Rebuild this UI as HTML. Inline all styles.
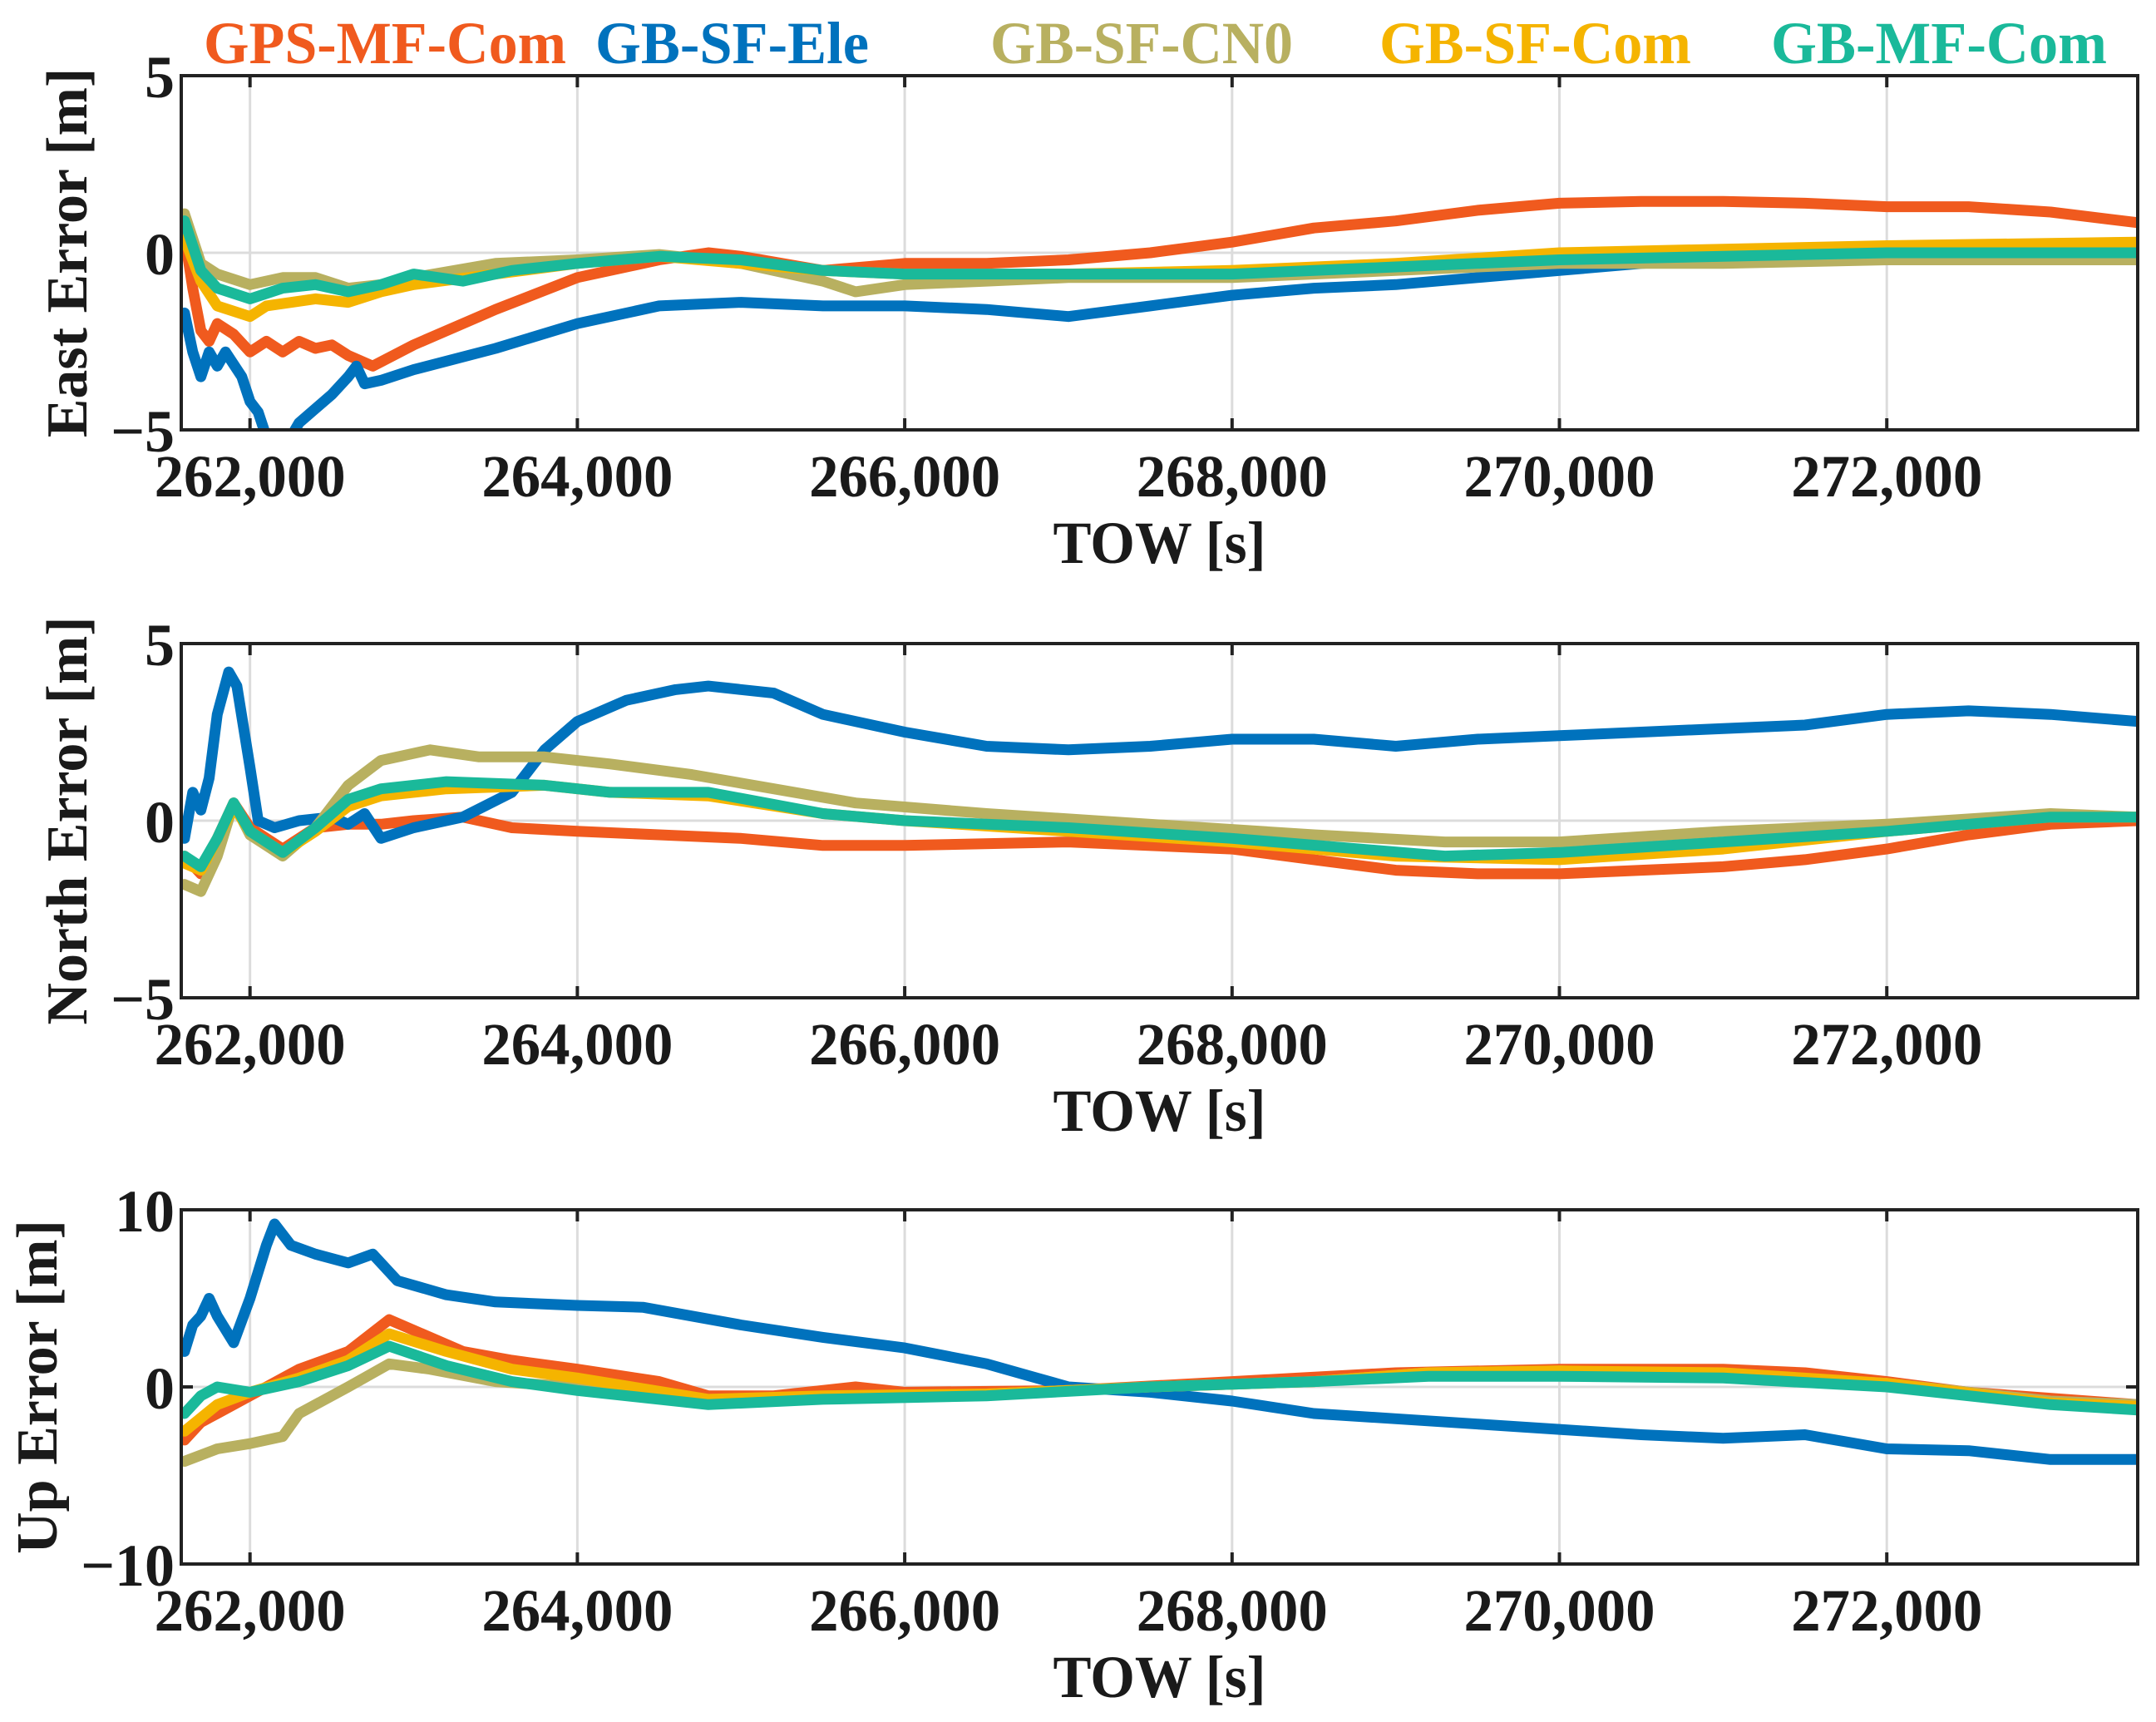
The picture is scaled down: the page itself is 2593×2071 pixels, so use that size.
<!DOCTYPE html>
<html><head><meta charset="utf-8"><style>
html,body{margin:0;padding:0;background:#fff;}
svg{display:block;font-family:"Liberation Serif",serif;font-weight:bold;}
</style></head><body>
<svg id="chart" width="2593" height="2071" viewBox="0 0 2593 2071">
<g id="legend" font-size="72">
<text x="245" y="76" fill="#f05a1e" textLength="436" lengthAdjust="spacingAndGlyphs">GPS-MF-Com</text>
<text x="716" y="76" fill="#0072bd" textLength="329" lengthAdjust="spacingAndGlyphs">GB-SF-Ele</text>
<text x="1191" y="76" fill="#b8b060" textLength="364" lengthAdjust="spacingAndGlyphs">GB-SF-CN0</text>
<text x="1659" y="76" fill="#f5b400" textLength="375" lengthAdjust="spacingAndGlyphs">GB-SF-Com</text>
<text x="2130" y="76" fill="#1ab99a" textLength="404" lengthAdjust="spacingAndGlyphs">GB-MF-Com</text>
</g>
</svg>
<script>
const xTicks=[262000,264000,266000,268000,270000,272000];
const xTickLabels=["262,000","264,000","266,000","268,000","270,000","272,000"];
const xDomain=[261580,273533];
const seriesNames=["GPS-MF-Com","GB-SF-Ele","GB-SF-CN0","GB-SF-Com","GB-MF-Com"];
const seriesColors=["#f05a1e","#0072bd","#b8b060","#f5b400","#1ab99a"];

const eastGPS=[[261600,0.5],[261650,-1],[261700,-2.2],[261750,-2.5],[261800,-2.0],[261900,-2.3],[262000,-2.8],[262100,-2.5],[262200,-2.8],[262300,-2.5],[262400,-2.7],[262500,-2.6],[262600,-2.9],[262750,-3.2],[263000,-2.6],[263500,-1.6],[264000,-0.7],[264500,-0.2],[264800,0],[265000,-0.1],[265500,-0.5],[266000,-0.3],[266500,-0.3],[267000,-0.2],[267500,0],[268000,0.3],[268500,0.7],[269000,0.9],[269500,1.2],[270000,1.4],[270500,1.45],[271000,1.45],[271500,1.4],[272000,1.3],[272500,1.3],[273000,1.15],[273533,0.85]];
const eastEle=[[261600,-1.7],[261650,-2.8],[261700,-3.5],[261750,-2.8],[261800,-3.2],[261850,-2.8],[261950,-3.5],[262000,-4.2],[262050,-4.5],[262100,-5.2],[262200,-5.6],[262300,-4.8],[262500,-4.0],[262600,-3.5],[262650,-3.2],[262700,-3.7],[262800,-3.6],[263000,-3.3],[263500,-2.7],[264000,-2.0],[264500,-1.5],[265000,-1.4],[265500,-1.5],[266000,-1.5],[266500,-1.6],[267000,-1.8],[267500,-1.5],[268000,-1.2],[268500,-1.0],[269000,-0.9],[269500,-0.7],[270000,-0.5],[270500,-0.3],[271000,-0.2],[272000,-0.1],[273533,-0.1]];
const eastCN0=[[261600,1.1],[261700,-0.3],[261800,-0.6],[262000,-0.9],[262200,-0.7],[262400,-0.7],[262600,-1.0],[262800,-0.9],[263000,-0.7],[263500,-0.3],[264000,-0.2],[264500,-0.05],[265000,-0.3],[265500,-0.8],[265700,-1.1],[266000,-0.9],[266500,-0.8],[267000,-0.7],[268000,-0.7],[269000,-0.5],[270000,-0.3],[271000,-0.3],[272000,-0.2],[273533,-0.2]];
const eastSFCom=[[261600,0.4],[261700,-0.8],[261800,-1.5],[262000,-1.8],[262100,-1.5],[262400,-1.3],[262600,-1.4],[262800,-1.1],[263000,-0.9],[263500,-0.6],[264000,-0.3],[264500,-0.1],[265000,-0.3],[265500,-0.5],[266000,-0.6],[267000,-0.6],[268000,-0.5],[269000,-0.3],[270000,0],[271000,0.1],[272000,0.2],[273533,0.3]];
const eastMFCom=[[261600,0.9],[261700,-0.5],[261800,-1.0],[262000,-1.3],[262200,-1.0],[262400,-0.9],[262600,-1.1],[262800,-0.9],[263000,-0.6],[263300,-0.8],[263600,-0.5],[264000,-0.3],[264500,-0.1],[265000,-0.2],[265500,-0.5],[266000,-0.6],[267000,-0.6],[268000,-0.6],[269000,-0.4],[270000,-0.2],[271000,-0.1],[272000,0],[273533,0]];

const northGPS=[[261600,-1.0],[261700,-1.5],[261800,-0.5],[261900,0.5],[262000,-0.2],[262200,-0.8],[262400,-0.2],[262600,-0.1],[262800,-0.1],[263000,0],[263300,0.1],[263600,-0.2],[264000,-0.3],[264500,-0.4],[265000,-0.5],[265500,-0.7],[266000,-0.7],[267000,-0.6],[268000,-0.8],[268500,-1.1],[269000,-1.4],[269500,-1.5],[270000,-1.5],[270500,-1.4],[271000,-1.3],[271500,-1.1],[272000,-0.8],[272500,-0.4],[273000,-0.1],[273533,0]];
const northEle=[[261600,-0.5],[261650,0.8],[261700,0.3],[261750,1.2],[261800,3.0],[261870,4.2],[261920,3.8],[262000,1.5],[262050,0],[262150,-0.2],[262300,0],[262500,0.1],[262600,-0.1],[262700,0.2],[262800,-0.5],[263000,-0.2],[263300,0.1],[263600,0.8],[263800,2.0],[264000,2.8],[264300,3.4],[264600,3.7],[264800,3.8],[265200,3.6],[265500,3.0],[266000,2.5],[266500,2.1],[267000,2.0],[267500,2.1],[268000,2.3],[268500,2.3],[269000,2.1],[269500,2.3],[270000,2.4],[270500,2.5],[271000,2.6],[271500,2.7],[272000,3.0],[272500,3.1],[273000,3.0],[273533,2.8]];
const northCN0=[[261600,-1.8],[261700,-2.0],[261800,-1.0],[261900,0.5],[262000,-0.4],[262200,-1.0],[262400,-0.2],[262600,1.0],[262800,1.7],[263100,2.0],[263400,1.8],[263800,1.8],[264200,1.6],[264700,1.3],[265200,0.9],[265700,0.5],[266500,0.2],[267500,-0.1],[268500,-0.4],[269300,-0.6],[270000,-0.6],[271000,-0.3],[272000,-0.1],[273000,0.2],[273533,0.1]];
const northSFCom=[[261600,-1.2],[261700,-1.4],[261800,-0.5],[261900,0.4],[262000,-0.3],[262200,-0.9],[262400,-0.3],[262600,0.4],[262800,0.7],[263200,0.9],[263800,1.0],[264200,0.8],[264800,0.7],[265500,0.2],[266000,0],[267000,-0.3],[268000,-0.6],[269000,-1.0],[270000,-1.1],[271000,-0.8],[272000,-0.3],[273000,0.1],[273533,0.1]];
const northMFCom=[[261600,-1.0],[261700,-1.3],[261800,-0.5],[261900,0.5],[262000,-0.3],[262200,-0.9],[262400,-0.2],[262600,0.6],[262800,0.9],[263200,1.1],[263800,1.0],[264200,0.8],[264800,0.8],[265500,0.2],[266000,0],[267000,-0.2],[268000,-0.5],[269300,-1.0],[270000,-0.9],[271000,-0.6],[272000,-0.3],[273000,0.1],[273533,0.1]];

const upGPS=[[261600,-3],[261700,-2],[261800,-1.5],[262000,-0.5],[262300,1],[262600,2],[262850,3.8],[263000,3.2],[263300,2],[263600,1.5],[264000,1],[264500,0.3],[264800,-0.5],[265200,-0.5],[265700,0],[266000,-0.3],[267000,-0.2],[268000,0.3],[269000,0.8],[270000,1.0],[271000,1.0],[271500,0.8],[272000,0.3],[272500,-0.3],[273533,-1.0]];
const upEle=[[261600,2],[261650,3.5],[261700,4],[261750,5],[261800,4],[261900,2.5],[262000,5],[262100,8],[262150,9.2],[262250,8],[262400,7.5],[262600,7],[262750,7.5],[262900,6],[263200,5.2],[263500,4.8],[264000,4.6],[264400,4.5],[265000,3.5],[265500,2.8],[266000,2.2],[266500,1.3],[267000,0],[267500,-0.3],[268000,-0.8],[268500,-1.5],[269000,-1.8],[269500,-2.1],[270000,-2.4],[270500,-2.7],[271000,-2.9],[271500,-2.7],[272000,-3.5],[272500,-3.6],[273000,-4.1],[273533,-4.1]];
const upCN0=[[261600,-4.2],[261800,-3.5],[262000,-3.2],[262200,-2.8],[262300,-1.5],[262600,0],[262850,1.3],[263100,1],[263500,0.3],[264000,0],[264800,-0.8],[265500,-0.6],[266500,-0.4],[267500,0],[268500,0.3],[269200,0.8],[270000,0.9],[271000,0.7],[272000,0.2],[273000,-0.8],[273533,-1.0]];
const upSFCom=[[261600,-2.5],[261800,-1],[262000,-0.3],[262300,0.5],[262600,1.5],[262850,3],[263200,2],[263600,1],[264000,0.5],[264800,-0.7],[265500,-0.5],[266500,-0.4],[267500,0],[268500,0.3],[269200,0.8],[270000,0.9],[271000,0.8],[272000,0.2],[273000,-0.9],[273533,-1.1]];
const upMFCom=[[261600,-1.5],[261700,-0.5],[261800,0],[262000,-0.3],[262300,0.3],[262600,1.2],[262850,2.3],[263200,1.2],[263600,0.3],[264000,-0.2],[264800,-1.0],[265500,-0.7],[266500,-0.5],[267500,0],[268500,0.3],[269200,0.6],[270000,0.6],[271000,0.5],[272000,0],[273000,-1.0],[273533,-1.3]];

const eastTicks=[-5,0,5], northTicks=[-5,0,5], upTicks=[-10,0,10];
const eastTickLabels=["\u22125","0","5"], northTickLabels=["\u22125","0","5"], upTickLabels=["\u221210","0","10"];

const NS="http://www.w3.org/2000/svg";
const svg=document.getElementById("chart");
const L=218,R=2571,H=426;
function xs(t){return L+(t-xDomain[0])/(xDomain[1]-xDomain[0])*(R-L);}
function mk(tag,attrs,parent){const e=document.createElementNS(NS,tag);for(const k in attrs)e.setAttribute(k,attrs[k]);(parent||svg).appendChild(e);return e;}

const panels=[
 {key:"east",top:91,dom:[-5,5],ticks:eastTicks,labels:eastTickLabels,title:"East Error [m]",tx:80,series:[eastGPS,eastEle,eastCN0,eastSFCom,eastMFCom]},
 {key:"north",top:774,dom:[-5,5],ticks:northTicks,labels:northTickLabels,title:"North Error [m]",tx:80,series:[northGPS,northEle,northCN0,northSFCom,northMFCom]},
 {key:"up",top:1455,dom:[-10,10],ticks:upTicks,labels:upTickLabels,title:"Up Error [m]",tx:44,series:[upGPS,upEle,upCN0,upSFCom,upMFCom]}
];
panels.forEach(p=>{
 const g=mk("g",{});
 
 
 const ys=v=>p.top+H-(v-p.dom[0])/(p.dom[1]-p.dom[0])*H;
 const cp=mk("clipPath",{id:"clip-"+p.key},g);
 mk("rect",{x:L,y:p.top,width:R-L,height:H},cp);
 xTicks.forEach((t,i)=>{
  const gl=mk("line",{x1:xs(t),x2:xs(t),y1:p.top,y2:p.top+H,stroke:"#dcdcdc","stroke-width":3},g);
  
  
  mk("line",{x1:xs(t),x2:xs(t),y1:p.top,y2:p.top+14,stroke:"#222","stroke-width":4},g);
  mk("line",{x1:xs(t),x2:xs(t),y1:p.top+H-14,y2:p.top+H,stroke:"#222","stroke-width":4},g);
  const tl=mk("text",{x:xs(t),y:p.top+H+80,"text-anchor":"middle","font-size":72,fill:"#1a1a1a",textLength:230,lengthAdjust:"spacingAndGlyphs"},g);
  tl.textContent=xTickLabels[i];
  
  
 });
 p.ticks.forEach((v,i)=>{
  if(v!==p.dom[0]&&v!==p.dom[1]){
   const gl=mk("line",{x1:L,x2:R,y1:ys(v),y2:ys(v),stroke:"#dcdcdc","stroke-width":3},g);
   
   
   mk("line",{x1:L,x2:L+14,y1:ys(v),y2:ys(v),stroke:"#222","stroke-width":4},g);
   mk("line",{x1:R-14,x2:R,y1:ys(v),y2:ys(v),stroke:"#222","stroke-width":4},g);
  }
  const tl=mk("text",{x:L-8,y:ys(v)+26,"text-anchor":"end","font-size":72,fill:"#1a1a1a"},g);
  tl.textContent=p.labels[i];
  
  
 });
 p.series.forEach((s,i)=>{
  const d=s.map((pt,j)=>(j?"L":"M")+xs(pt[0]).toFixed(1)+","+ys(pt[1]).toFixed(1)).join("");
  const path=mk("path",{d:d,fill:"none",stroke:seriesColors[i],"stroke-width":13,"stroke-linejoin":"round","stroke-linecap":"round","clip-path":"url(#clip-"+p.key+")"},g);
  
  
 });
 const box=mk("rect",{x:L,y:p.top,width:R-L,height:H,fill:"none",stroke:"#222","stroke-width":4},g);
 
 
 const xt=mk("text",{x:(L+R)/2,y:p.top+H+160,"text-anchor":"middle","font-size":72,fill:"#1a1a1a",textLength:256,lengthAdjust:"spacingAndGlyphs"},g);
 xt.textContent="TOW [s]";
 
 
 const cy=p.top+H/2;
 const yt=mk("text",{x:p.tx,y:cy,"text-anchor":"middle","font-size":70,fill:"#1a1a1a",transform:"rotate(-90 "+(p.tx)+" "+cy+")",dy:"24"},g);
 yt.textContent=p.title;
 
 
});
</script>
</body></html>
